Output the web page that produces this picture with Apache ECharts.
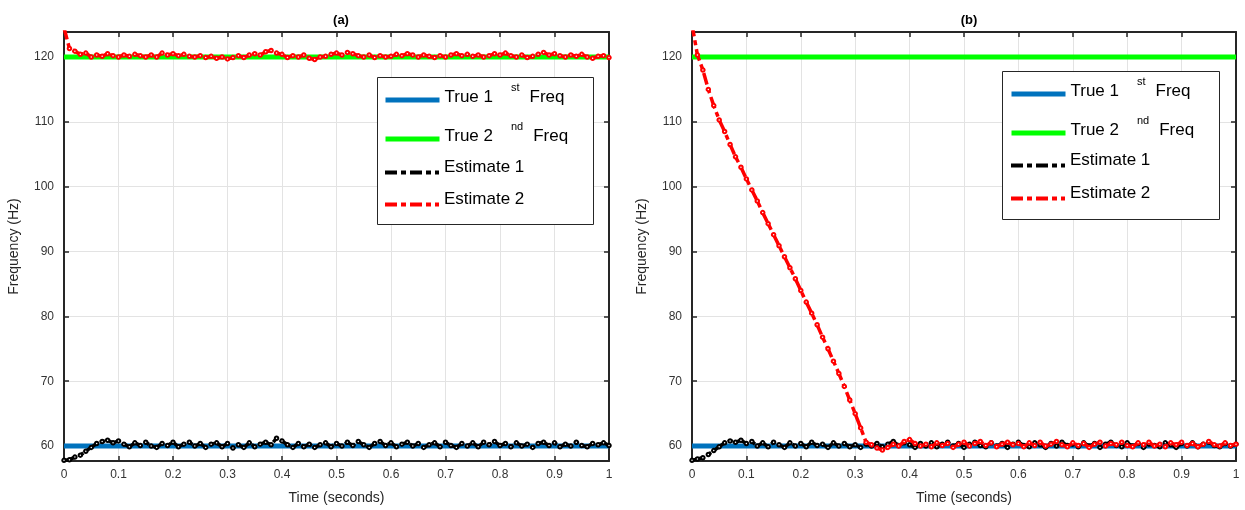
<!DOCTYPE html>
<html>
<head>
<meta charset="utf-8">
<script src="https://cdn.jsdelivr.net/npm/echarts@6/dist/echarts.min.js"></script>
<style>html,body{margin:0;padding:0;background:#fff;}#c{width:1245px;height:510px;}</style>
</head>
<body>
<div id="c"></div>
<script>
// ---- data ----
const X_TICKS = [0, 0.1, 0.2, 0.3, 0.4, 0.5, 0.6, 0.7, 0.8, 0.9, 1];
const Y_TICKS = [60, 70, 80, 90, 100, 110, 120];
const TRUE_1 = 60;
const TRUE_2 = 120;
const NAMES = ['True 1st Freq', 'True 2nd Freq', 'Estimate 1', 'Estimate 2'];
const TITLES = ['(a)', '(b)'];

// estimates sampled every 0.01 s (t = 0 ... 1)
const A_EST1 = [57.8,57.9,58.3,58.6,59.2,59.8,60.4,60.7,60.9,60.5,
  60.8,60.3,59.9,60.5,60.1,60.6,60.0,59.8,60.4,60.1,
  60.6,59.9,60.3,60.6,60.0,60.4,59.8,60.3,60.5,59.9,
  60.4,59.7,60.2,59.8,60.5,59.9,60.3,60.6,60.2,61.2,
  60.8,60.2,59.8,60.4,59.9,60.3,59.8,60.2,60.5,59.9,
  60.4,60.0,60.6,60.1,60.7,60.2,59.8,60.4,60.7,60.1,
  60.5,59.9,60.3,60.6,60.0,60.4,59.8,60.2,60.5,59.9,
  60.6,60.1,59.8,60.4,60.0,60.5,59.9,60.6,60.2,60.7,
  60.1,60.4,59.9,60.5,60.0,60.3,59.8,60.4,60.6,60.1,
  60.5,59.9,60.3,60.0,60.6,60.1,59.9,60.4,60.2,60.5,60.1];
const A_EST2 = [124.5,121.3,120.9,120.4,120.6,120.0,120.3,120.1,120.5,120.2,
  120.0,120.3,120.1,120.4,120.2,120.0,120.3,120.0,120.6,120.3,
  120.5,120.2,120.4,120.1,120.0,120.2,119.9,120.1,119.8,120.0,
  119.7,119.9,120.2,119.9,120.3,120.5,120.3,120.8,121.0,120.6,
  120.4,119.9,120.2,120.0,120.3,119.8,119.6,120.0,120.1,120.4,
  120.6,120.3,120.7,120.5,120.2,120.0,120.3,119.9,120.2,120.0,
  120.1,120.4,120.2,120.5,120.3,120.0,120.3,120.1,119.9,120.2,
  120.0,120.3,120.5,120.2,120.4,120.1,120.3,120.0,120.2,120.5,
  120.3,120.6,120.2,120.0,120.3,119.9,120.1,120.4,120.7,120.3,
  120.5,120.2,120.0,120.3,120.1,120.4,120.0,119.8,120.1,120.2,119.9];
const B_EST1 = [57.8,58.0,58.2,58.7,59.3,59.9,60.5,60.8,60.6,60.9,
  60.4,60.7,60.0,60.5,59.9,60.6,60.2,59.8,60.5,60.0,
  60.4,59.9,60.6,60.1,60.3,59.8,60.5,60.0,60.4,59.9,
  60.2,59.8,60.3,60.0,60.4,59.9,60.3,60.7,60.1,60.5,
  60.2,59.8,60.4,60.0,60.5,59.9,60.3,60.6,60.0,60.4,
  59.8,60.3,60.6,60.1,59.9,60.5,60.0,60.4,59.8,60.3,
  60.6,60.1,59.9,60.5,60.2,59.8,60.4,60.0,60.6,60.1,
  60.3,59.9,60.5,60.0,60.4,59.8,60.3,60.6,60.1,59.9,
  60.5,60.0,60.4,59.8,60.3,60.1,59.9,60.5,60.2,59.8,
  60.4,60.0,60.5,59.9,60.3,60.6,60.1,59.9,60.4,60.0,60.3];
const B_EST2 = [125.0,120.3,118.0,115.0,112.5,110.3,108.5,106.5,104.6,103.0,
  101.2,99.5,97.8,96.0,94.3,92.6,90.9,89.2,87.5,85.8,
  84.0,82.2,80.5,78.7,76.8,75.0,73.1,71.2,69.2,67.1,
  65.0,62.8,60.6,60.2,59.7,59.4,59.8,60.3,60.0,60.7,
  61.0,60.4,60.0,60.3,59.9,60.5,60.1,60.4,59.8,60.3,
  60.6,60.0,60.4,60.7,60.1,60.5,59.9,60.3,60.6,60.2,
  60.4,59.9,60.5,60.1,60.6,60.0,60.3,60.7,60.2,59.9,
  60.5,60.1,60.4,59.8,60.3,60.6,60.0,60.4,60.2,60.6,
  60.1,59.9,60.5,60.2,60.6,60.0,60.3,59.9,60.5,60.2,
  60.6,60.1,60.4,59.9,60.3,60.7,60.2,60.0,60.5,60.1,60.3];

// ---- chart ----
const FONT = 'Liberation Sans, Arial, Helvetica, sans-serif';
const TIME = A_EST1.map((_, i) => i / 100);
const pairs = arr => arr.map((v, i) => [TIME[i], v]);

const Y_MIN = 57.7, Y_MAX = 123.85;
const FRAME = '#262626';
const DASH = [12, 4, 5, 4];

const grids = [
  { left: 64, width: 545, top: 32, height: 430 },
  { left: 692, width: 544, top: 32, height: 430 }
];

const xAxes = [], yAxes = [];
grids.forEach((g, gi) => {
  const common = {
    gridIndex: gi, type: 'value', min: 0, max: 1, interval: 0.1,
    axisLine: { show: true, onZero: false, lineStyle: { color: FRAME, width: 2 } },
    axisTick: { show: true, inside: true, length: 5, lineStyle: { color: FRAME, width: 1.5 } }
  };
  xAxes.push(Object.assign({}, common, {
    position: 'bottom',
    name: 'Time (seconds)', nameLocation: 'middle', nameGap: 30,
    nameTextStyle: { fontFamily: FONT, fontSize: 14, color: '#262626' },
    axisLabel: { show: true, margin: 8, fontFamily: FONT, fontSize: 12, color: '#333' },
    splitLine: { show: true, lineStyle: { color: '#e3e3e3', width: 1 } }
  }));
  xAxes.push(Object.assign({}, common, {
    position: 'top', axisLabel: { show: false }, splitLine: { show: false }
  }));
  const ycommon = {
    gridIndex: gi, type: 'value', min: Y_MIN, max: Y_MAX,
    axisLine: { show: true, onZero: false, lineStyle: { color: FRAME, width: 2 } },
    axisTick: { show: true, inside: true, length: 5, customValues: Y_TICKS, lineStyle: { color: FRAME, width: 1.5 } }
  };
  yAxes.push(Object.assign({}, ycommon, {
    position: 'left',
    name: 'Frequency (Hz)', nameLocation: 'middle', nameGap: 43, nameRotate: 90,
    nameTextStyle: { fontFamily: FONT, fontSize: 14, color: '#262626' },
    axisLabel: { show: true, margin: 10, customValues: Y_TICKS, fontFamily: FONT, fontSize: 12, color: '#333' },
    splitLine: { show: true, lineStyle: { color: '#e3e3e3', width: 1 } }
  }));
  yAxes.push(Object.assign({}, ycommon, {
    position: 'right', axisLabel: { show: false }, splitLine: { show: false }
  }));
});

function trueSeries(name, value, color, gi) {
  return {
    name, type: 'line', xAxisIndex: gi * 2, yAxisIndex: gi * 2,
    data: [[X_TICKS[0], value], [X_TICKS[X_TICKS.length - 1], value]],
    symbol: 'none', silent: true, animation: false,
    lineStyle: { color, width: 5 }, itemStyle: { color }, z: 2
  };
}
function estSeries(name, arr, color, gi, z) {
  return {
    name, type: 'line', xAxisIndex: gi * 2, yAxisIndex: gi * 2,
    data: pairs(arr), clip: true,
    symbol: 'emptyCircle', symbolSize: 3.5, showSymbol: true,
    animation: false, silent: true,
    lineStyle: { color, width: 3.5, type: DASH },
    itemStyle: { color, borderColor: color, borderWidth: 1 }, z
  };
}

const series = [
  trueSeries(NAMES[0], TRUE_1, '#0072BD', 0),
  trueSeries(NAMES[1], TRUE_2, '#00FF00', 0),
  estSeries(NAMES[2], A_EST1, '#000000', 0, 3),
  estSeries(NAMES[3], A_EST2, '#FF0000', 0, 4),
  trueSeries(NAMES[0], TRUE_1, '#0072BD', 1),
  trueSeries(NAMES[1], TRUE_2, '#00FF00', 1),
  estSeries(NAMES[2], B_EST1, '#000000', 1, 3),
  estSeries(NAMES[3], B_EST2, '#FF0000', 1, 4)
];

const RICH = {
  m: { fontFamily: FONT, fontSize: 17, lineHeight: 20, color: '#000', verticalAlign: 'bottom' },
  s: { fontFamily: FONT, fontSize: 11, lineHeight: 13, color: '#000', verticalAlign: 'bottom', padding: [0, 10, 13, 18] },
  e: { fontFamily: FONT, fontSize: 17, lineHeight: 20, color: '#000' }
};
function fmt(name) {
  if (name === NAMES[0]) return '{m|True 1}{s|st}{m|Freq}';
  if (name === NAMES[1]) return '{m|True 2}{s|nd}{m|Freq}';
  return '{e|' + name + '}';
}
function makeLegend(name, left, iconCenter, isTrue) {
  const B = isTrue ? 34 : 30;
  return {
    show: true, left, top: iconCenter - B / 2, padding: 0, orient: 'vertical', z: 20,
    data: [name], selectedMode: false,
    itemWidth: 54, itemHeight: 3,
    itemStyle: { opacity: 0 },
    lineStyle: { width: isTrue ? 5 : 4 },
    formatter: fmt,
    textStyle: { fontFamily: FONT, fontSize: 17, color: '#000', padding: isTrue ? [0, 0, 8, 0] : [0, 0, 10, 0], rich: RICH }
  };
}
const legends = [];
const LEG_A = [99, 138, 174, 206];
const LEG_B = [93, 132, 167, 200];
NAMES.forEach((n, i) => legends.push(makeLegend(n, 383, LEG_A[i], i < 2)));
NAMES.forEach((n, i) => legends.push(makeLegend(n, 1009, LEG_B[i], i < 2)));

const option = {
  backgroundColor: '#fff',
  animation: false,
  title: [
    { text: TITLES[0], left: 336, top: 9, textAlign: 'center', textStyle: { fontFamily: FONT, fontSize: 13, fontWeight: 'bold', color: '#000' } },
    { text: TITLES[1], left: 964, top: 9, textAlign: 'center', textStyle: { fontFamily: FONT, fontSize: 13, fontWeight: 'bold', color: '#000' } }
  ],
  grid: grids,
  xAxis: xAxes,
  yAxis: yAxes,
  legend: legends,
  graphic: [
    { type: 'rect', left: 377, top: 77, z: 10, shape: { width: 216, height: 147 }, style: { fill: '#fff', stroke: FRAME, lineWidth: 1 } },
    { type: 'rect', left: 1002, top: 71, z: 10, shape: { width: 217, height: 148 }, style: { fill: '#fff', stroke: FRAME, lineWidth: 1 } }
  ],
  series
};

const chart = echarts.init(document.getElementById('c'), null, { renderer: 'canvas' });
chart.setOption(option);
</script>
</body>
</html>
